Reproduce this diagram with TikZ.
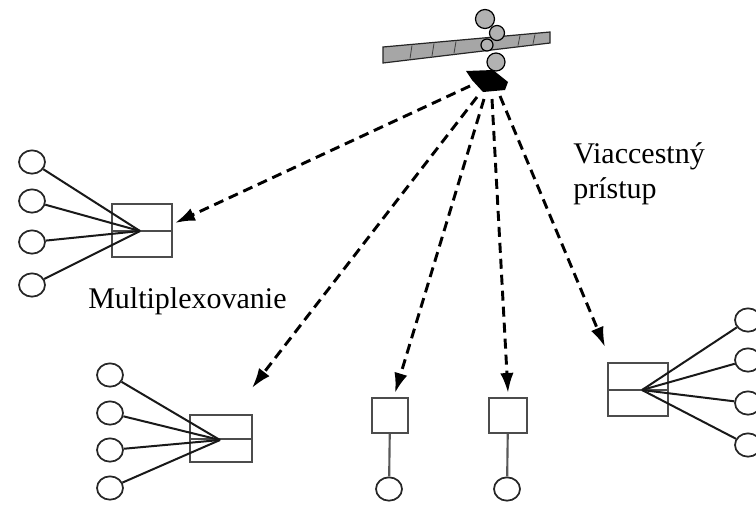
\documentclass[tikz,border=0pt]{standalone}
\usepackage{fontspec}
\setmainfont{Liberation Serif}
\newfontfamily\lblfont{Liberation Serif}
\usetikzlibrary{arrows.meta,shapes.geometric}
\begin{document}
\begin{tikzpicture}[x=0.75pt,y=-0.75pt,
  term/.style={draw=black!85,line width=1.3pt,ellipse,minimum width=19.5pt,minimum height=17.5pt,inner sep=0pt},
  mux/.style={draw=black!70,line width=1.5pt,rectangle,inner sep=0pt},
  divider/.style={draw=black!70,line width=1.5pt},
  fan/.style={line width=1.5pt,black!90},
  feed/.style={line width=1.6pt,black!65},
  link/.style={line width=2.2pt,dash pattern=on 7.5pt off 4.5pt,-{Latex[length=15pt,width=10pt]}},
  lbl/.style={font=\lblfont\fontsize{22.5}{26}\selectfont,anchor=base west,inner sep=0pt}
]
\useasboundingbox (0,0) rectangle (756,504);

% ---------- satellite ----------
\filldraw[fill=gray!70,draw=black!85,line width=0.9pt]
  (383,47) -- (550,32) -- (550,43) -- (383,63) -- cycle;
\foreach \x in {412,434,456,520,535}
  \draw[black!75,line width=0.6pt] (\x,{47-(\x-383)*15/167+1}) -- (\x-2,{63-(\x-383)*20/167-1});
\filldraw[fill=gray!60,draw=black,line width=0.9pt] (487,45) circle (6);
\filldraw[fill=gray!60,draw=black,line width=0.9pt] (497,33) circle (7.5);
\filldraw[fill=gray!60,draw=black,line width=0.9pt] (485,19) circle (9.5);
\filldraw[fill=gray!60,draw=black,line width=0.9pt] (496,62) circle (9);
\fill[black] (466,71) -- (493,70) -- (508,82) -- (505,90) -- (483,92) -- (472,80) -- cycle;

% beam origins under the antenna
\coordinate (s1) at (470,86);
\coordinate (s2) at (477,97);
\coordinate (s3) at (484,99);
\coordinate (s4) at (492,99);
\coordinate (s5) at (500,96);

% ---------- multiplexer, upper left ----------
\node[mux,minimum width=45pt,minimum height=39.75pt] (b1) at (142,230.5) {};
\draw[divider] (b1.west) -- (b1.east);
\coordinate (m1) at (140,231);
\node[term] (c11) at (32,162) {};
\node[term] (c12) at (32,201) {};
\node[term] (c13) at (32,242) {};
\node[term] (c14) at (32,285) {};
\foreach \c in {c11,c12,c13,c14} \draw[fan] (\c) -- (m1);
\coordinate (t1) at (175,223);

% ---------- multiplexer, lower left ----------
\node[mux,minimum width=46.5pt,minimum height=35.25pt] (b2) at (221,438.5) {};
\draw[divider] (b2.west) -- (b2.east);
\coordinate (m2) at (220,440);
\node[term] (c21) at (110,375) {};
\node[term] (c22) at (110,413) {};
\node[term] (c23) at (110,450) {};
\node[term] (c24) at (110,488) {};
\foreach \c in {c21,c22,c23,c24} \draw[fan] (\c) -- (m2);
\coordinate (t2) at (252,388);

% ---------- single terminals ----------
\node[mux,minimum width=27pt,minimum height=26.25pt] (b3) at (390,415.5) {};
\node[term] (c3) at (389,489) {};
\draw[feed] (b3) -- (c3);
\coordinate (t3) at (395,393);

\node[mux,minimum width=28.5pt,minimum height=26.25pt] (b4) at (508,415.5) {};
\node[term] (c4) at (507,489) {};
\draw[feed] (b4) -- (c4);
\coordinate (t4) at (508,393);

% ---------- multiplexer, right ----------
\node[mux,minimum width=45pt,minimum height=39.75pt] (b5) at (638,389.5) {};
\draw[divider] (b5.west) -- (b5.east);
\coordinate (m5) at (642,390);
\node[term] (c51) at (748,320) {};
\node[term] (c52) at (748,360) {};
\node[term] (c53) at (748,403) {};
\node[term] (c54) at (748,445) {};
\foreach \c in {c51,c52,c53,c54} \draw[fan] (m5) -- (\c);
\coordinate (t5) at (605,347);

% ---------- satellite links ----------
\draw[link] (s1) -- (t1);
\draw[link] (s2) -- (t2);
\draw[link] (s3) -- (t3);
\draw[link] (s4) -- (t4);
\draw[link] (s5) -- (t5);

% ---------- labels ----------
\node[lbl] (mx) at (88,308) {Multiplexovanie};
\node[lbl] (va) at (573,163) {Viaccestný};
\node[lbl] (pr) at (573,198) {prístup};
\end{tikzpicture}
\end{document}
